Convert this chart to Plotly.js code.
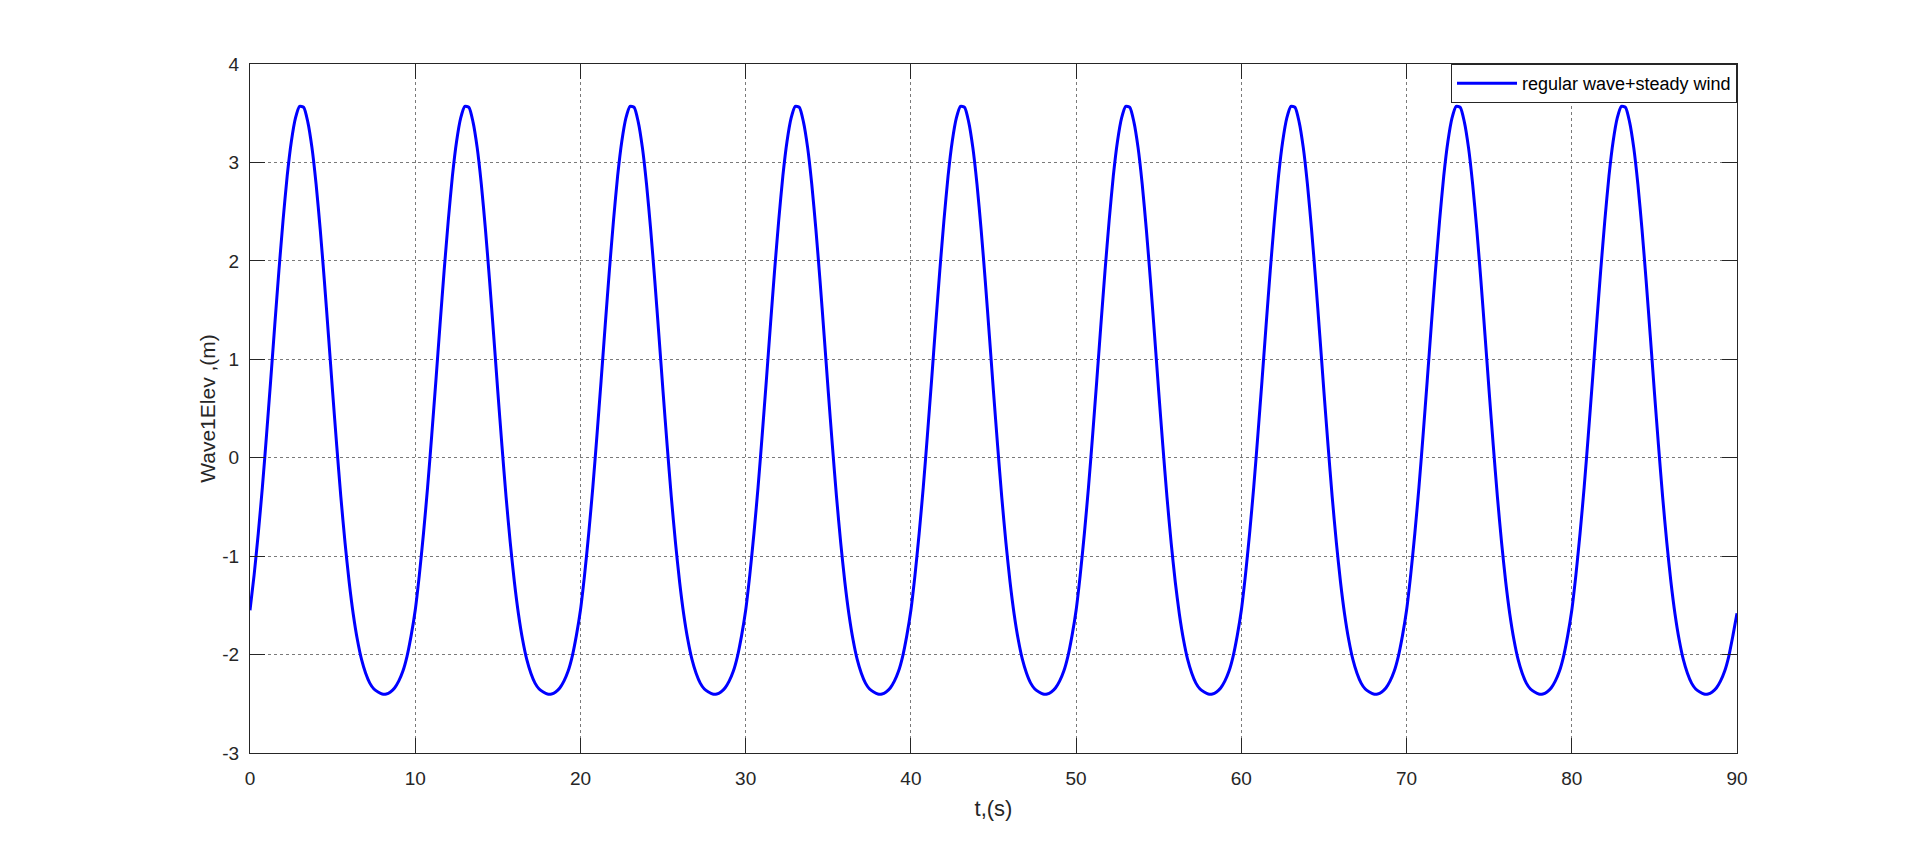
<!DOCTYPE html>
<html>
<head>
<meta charset="utf-8">
<script src="https://cdn.plot.ly/plotly-3.0.1.min.js"></script>
<style>
html,body{margin:0;padding:0;background:#fff;}
#chart{width:1920px;height:847px;}
</style>
</head>
<body>
<div id="chart"></div>
<script>
// Sample interval of the record (s) and start time
var tStart = 0;
var tStep = 0.25;

// Wave elevation (m) at 0.25 s intervals, t = 0 ... 90 s
var wave1Elev = [
-1.55,-1.19,-0.77,-0.30,0.23,0.78,1.35,1.90,2.41,2.86,3.21,3.45,3.57,3.56,3.41,3.15,2.78,2.32,1.80,1.24,0.67,0.12,-0.40,-0.86,-1.26,-1.59,-1.85,-2.05,-2.19,-2.29,-2.35,-2.38,-2.40,-2.40,-2.38,-2.34,-2.27,-2.17,-2.02,-1.81,
-1.55,-1.19,-0.77,-0.30,0.23,0.78,1.35,1.90,2.41,2.86,3.21,3.45,3.57,3.56,3.41,3.15,2.78,2.32,1.80,1.24,0.67,0.12,-0.40,-0.86,-1.26,-1.59,-1.85,-2.05,-2.19,-2.29,-2.35,-2.38,-2.40,-2.40,-2.38,-2.34,-2.27,-2.17,-2.02,-1.81,
-1.55,-1.19,-0.77,-0.30,0.23,0.78,1.35,1.90,2.41,2.86,3.21,3.45,3.57,3.56,3.41,3.15,2.78,2.32,1.80,1.24,0.67,0.12,-0.40,-0.86,-1.26,-1.59,-1.85,-2.05,-2.19,-2.29,-2.35,-2.38,-2.40,-2.40,-2.38,-2.34,-2.27,-2.17,-2.02,-1.81,
-1.55,-1.19,-0.77,-0.30,0.23,0.78,1.35,1.90,2.41,2.86,3.21,3.45,3.57,3.56,3.41,3.15,2.78,2.32,1.80,1.24,0.67,0.12,-0.40,-0.86,-1.26,-1.59,-1.85,-2.05,-2.19,-2.29,-2.35,-2.38,-2.40,-2.40,-2.38,-2.34,-2.27,-2.17,-2.02,-1.81,
-1.55,-1.19,-0.77,-0.30,0.23,0.78,1.35,1.90,2.41,2.86,3.21,3.45,3.57,3.56,3.41,3.15,2.78,2.32,1.80,1.24,0.67,0.12,-0.40,-0.86,-1.26,-1.59,-1.85,-2.05,-2.19,-2.29,-2.35,-2.38,-2.40,-2.40,-2.38,-2.34,-2.27,-2.17,-2.02,-1.81,
-1.55,-1.19,-0.77,-0.30,0.23,0.78,1.35,1.90,2.41,2.86,3.21,3.45,3.57,3.56,3.41,3.15,2.78,2.32,1.80,1.24,0.67,0.12,-0.40,-0.86,-1.26,-1.59,-1.85,-2.05,-2.19,-2.29,-2.35,-2.38,-2.40,-2.40,-2.38,-2.34,-2.27,-2.17,-2.02,-1.81,
-1.55,-1.19,-0.77,-0.30,0.23,0.78,1.35,1.90,2.41,2.86,3.21,3.45,3.57,3.56,3.41,3.15,2.78,2.32,1.80,1.24,0.67,0.12,-0.40,-0.86,-1.26,-1.59,-1.85,-2.05,-2.19,-2.29,-2.35,-2.38,-2.40,-2.40,-2.38,-2.34,-2.27,-2.17,-2.02,-1.81,
-1.55,-1.19,-0.77,-0.30,0.23,0.78,1.35,1.90,2.41,2.86,3.21,3.45,3.57,3.56,3.41,3.15,2.78,2.32,1.80,1.24,0.67,0.12,-0.40,-0.86,-1.26,-1.59,-1.85,-2.05,-2.19,-2.29,-2.35,-2.38,-2.40,-2.40,-2.38,-2.34,-2.27,-2.17,-2.02,-1.81,
-1.55,-1.19,-0.77,-0.30,0.23,0.78,1.35,1.90,2.41,2.86,3.21,3.45,3.57,3.56,3.41,3.15,2.78,2.32,1.80,1.24,0.67,0.12,-0.40,-0.86,-1.26,-1.59,-1.85,-2.05,-2.19,-2.29,-2.35,-2.38,-2.40,-2.40,-2.38,-2.34,-2.27,-2.17,-2.02,-1.81,
-1.58
];

var seriesName = 'regular wave+steady wind';
var xTitle = 't,(s)';
var yTitle = 'Wave1Elev ,(m)';
var xTickVals = [0,10,20,30,40,50,60,70,80,90];
var yTickVals = [-3,-2,-1,0,1,2,3,4];

var font = 'Liberation Sans, Arial, Helvetica, sans-serif';
var axisColor = '#262626';

var trace = {
  type: 'scatter',
  mode: 'lines',
  name: seriesName,
  x0: tStart,
  dx: tStep,
  y: wave1Elev,
  line: {color: '#0000FF', width: 3, shape: 'spline', smoothing: 0.6},
  showlegend: true
};

var axisCommon = {
  showline: true,
  linecolor: axisColor,
  linewidth: 1,
  mirror: 'ticks',
  ticks: 'inside',
  ticklen: 15,
  tickwidth: 1,
  tickcolor: axisColor,
  showgrid: true,
  gridcolor: '#7a7a7a',
  griddash: 'dot',
  gridwidth: 1,
  zeroline: false,
  tickfont: {family: font, size: 19, color: axisColor}
};

var layout = {
  width: 1920,
  height: 847,
  paper_bgcolor: '#ffffff',
  plot_bgcolor: '#ffffff',
  margin: {l: 250, r: 183, t: 64, b: 94, pad: 0},
  showlegend: true,
  legend: {
    x: 1, y: 1, xanchor: 'right', yanchor: 'top',
    bgcolor: '#ffffff',
    bordercolor: axisColor,
    borderwidth: 1,
    font: {family: font, size: 18, color: '#000000'},
    itemwidth: 60
  },
  xaxis: Object.assign({}, axisCommon, {
    range: [0, 90],
    tickvals: xTickVals,
    ticktext: xTickVals.map(String),
    ticklabelstandoff: 8,
    title: {text: xTitle, font: {family: font, size: 22, color: axisColor}, standoff: 12}
  }),
  yaxis: Object.assign({}, axisCommon, {
    range: [-3, 4],
    tickvals: yTickVals,
    ticktext: yTickVals.map(String),
    ticklabelstandoff: 6,
    title: {text: yTitle, font: {family: font, size: 21, color: axisColor}, standoff: 0}
  })
};

Plotly.newPlot('chart', [trace], layout, {displayModeBar: false, staticPlot: true});
</script>
</body>
</html>
